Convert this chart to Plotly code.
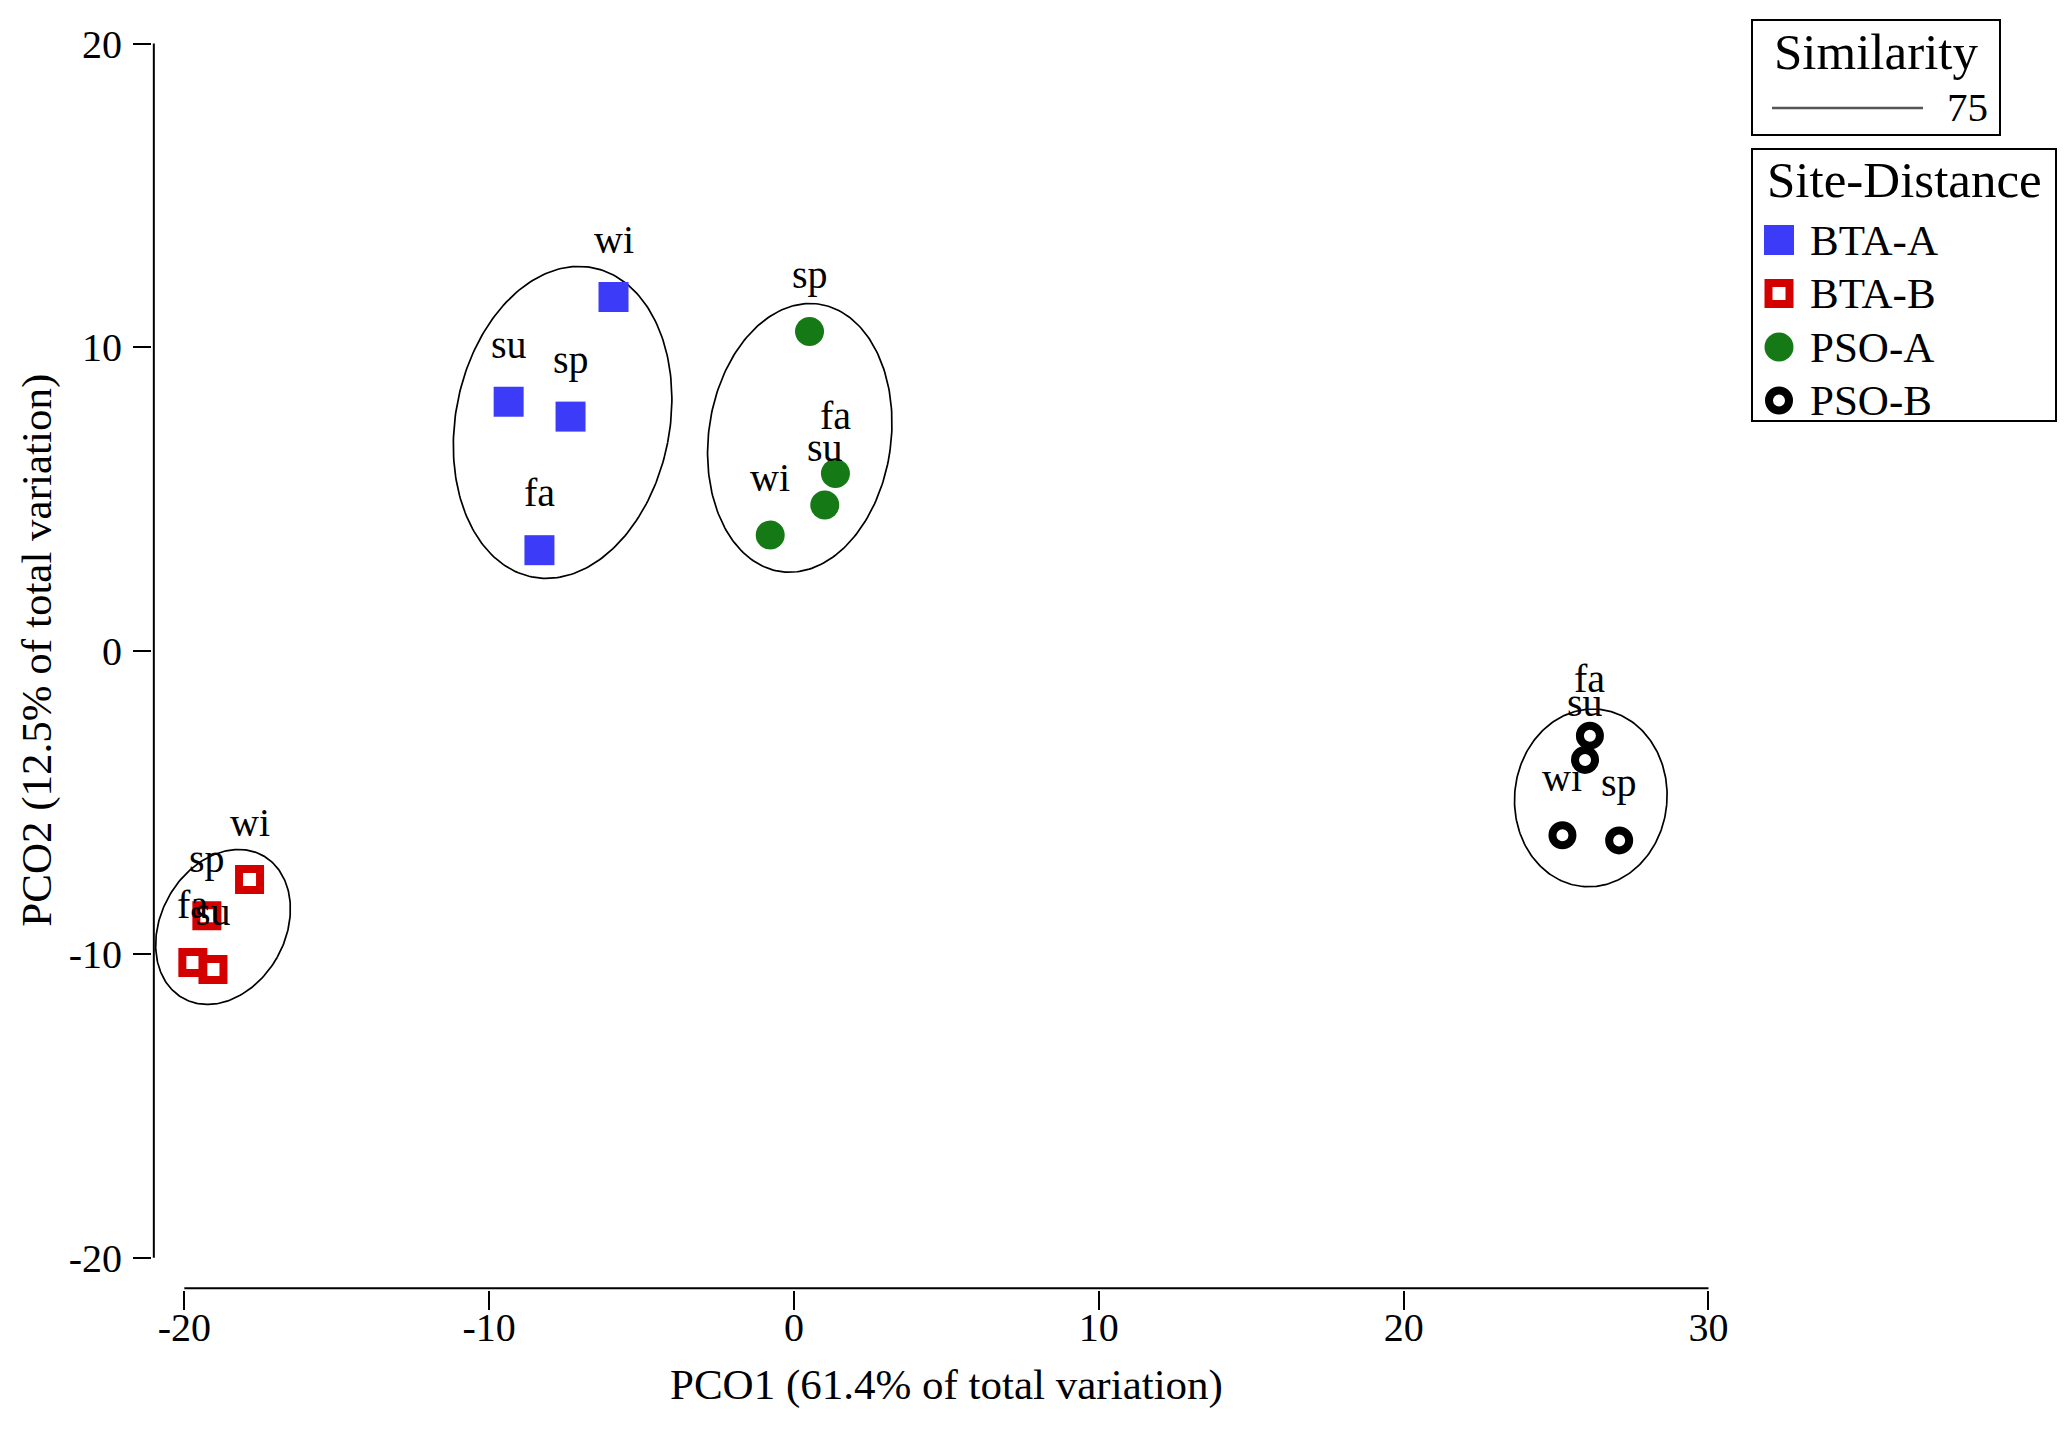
import numpy as np
import plotly.graph_objects as go

W, H = 2067, 1430
FONT = "Liberation Serif, Times New Roman, serif"

# scores per site-distance group (PCO1, PCO2), one point per season
groups = ["BTA-A", "BTA-B", "PSO-A", "PSO-B"]

bta_a_season = ["wi", "su", "sp", "fa"]
bta_a_pco1 = [-5.92, -9.36, -7.33, -8.35]
bta_a_pco2 = [11.65, 8.20, 7.71, 3.31]

bta_b_season = ["wi", "sp", "fa", "su"]
bta_b_pco1 = [-17.86, -19.26, -19.72, -19.06]
bta_b_pco2 = [-7.54, -8.73, -10.27, -10.50]

pso_a_season = ["sp", "fa", "su", "wi"]
pso_a_pco1 = [0.51, 1.36, 1.01, -0.78]
pso_a_pco2 = [10.51, 5.84, 4.80, 3.81]

pso_b_season = ["fa", "su", "wi", "sp"]
pso_b_pco1 = [26.11, 25.95, 25.21, 27.07]
pso_b_pco2 = [-2.80, -3.60, -6.08, -6.25]

# 75% similarity contours: centre x, centre y, semi-major, semi-minor, tilt (deg, clockwise from vertical)
contour_cx = [-7.59, -18.73, 0.19, 26.14]
contour_cy = [7.52, -9.10, 7.01, -4.85]
contour_a = [5.19, 2.69, 4.45, 2.93]
contour_b = [3.51, 2.04, 2.99, 2.50]
contour_tilt = [11, 29, 8, 5]

x_ticks = [-20, -10, 0, 10, 20, 30]
y_ticks = [-20, -10, 0, 10, 20]

series = {
    "BTA-A": (bta_a_pco1, bta_a_pco2, bta_a_season),
    "BTA-B": (bta_b_pco1, bta_b_pco2, bta_b_season),
    "PSO-A": (pso_a_pco1, pso_a_pco2, pso_a_season),
    "PSO-B": (pso_b_pco1, pso_b_pco2, pso_b_season),
}

styles = {
    "BTA-A": dict(symbol="square", size=30, color="#3c3cf8", line=dict(width=0)),
    "BTA-B": dict(symbol="square-open", size=21, color="#d40000", line=dict(width=8, color="#d40000")),
    "PSO-A": dict(symbol="circle", size=29, color="#157a15", line=dict(width=0)),
    "PSO-B": dict(symbol="circle-open", size=20, color="#000000", line=dict(width=8, color="#000000")),
}

# page has an 8px body margin, so the figure is drawn 8px in from the corner
PAGE = 8
# plot area in page pixels
L, R, T, B = 152, 1710, 42, 1290
XR = [-21.06, 30.05]
YR = [-21.06, 20.05]


def px_x(px):
    return (px - L) / (R - L)


def px_y(py):
    return 1 - (py - T) / (B - T)


fig = go.Figure()

# similarity ellipses
t = np.linspace(0, 2 * np.pi, 240)
for cx, cy, a, b, tilt in zip(contour_cx, contour_cy, contour_a, contour_b, contour_tilt):
    th = np.radians(tilt)
    u = b * np.cos(t)
    v = a * np.sin(t)
    fig.add_trace(go.Scatter(
        x=cx + u * np.cos(th) + v * np.sin(th),
        y=cy - u * np.sin(th) + v * np.cos(th),
        mode="lines",
        line=dict(color="black", width=1.7),
        hoverinfo="skip",
        showlegend=False,
    ))

annotations = []
for g in groups:
    xs, ys, labs = series[g]
    fig.add_trace(go.Scatter(
        x=xs, y=ys, mode="markers", name=g,
        marker=styles[g], showlegend=False, cliponaxis=False,
        hovertemplate=g + " %{text}<br>PCO1 %{x}<br>PCO2 %{y}<extra></extra>",
        text=labs,
    ))
    for x, y, lab in zip(xs, ys, labs):
        annotations.append(dict(
            x=x, y=y, xref="x", yref="y", text=lab, showarrow=False,
            yanchor="bottom", yshift=33,
            font=dict(family=FONT, size=40, color="black"),
        ))

shapes = []

# hand-made legend: swatch drawn as a shape, name as text
for i, g in enumerate(groups):
    st = styles[g]
    row_y = 240 + i * 53.5
    cx = 1779
    lw = st["line"]["width"]
    half = (st["size"] + lw) / 2 if lw else st["size"] / 2
    kind = "circle" if st["symbol"].startswith("circle") else "rect"
    if st["symbol"].endswith("open"):
        inner = half - lw / 2
        swatch = dict(fillcolor="white", line=dict(color=st["color"], width=lw))
        x0, x1, y0, y1 = cx - inner, cx + inner, row_y - inner, row_y + inner
    else:
        swatch = dict(fillcolor=st["color"], line=dict(width=0))
        x0, x1, y0, y1 = cx - half, cx + half, row_y - half, row_y + half
    shapes.append(dict(type=kind, xref="paper", yref="paper",
                       x0=px_x(x0), x1=px_x(x1), y0=px_y(y1), y1=px_y(y0), **swatch))
    annotations.append(dict(
        x=px_x(1808), y=px_y(row_y), xref="paper", yref="paper",
        text=g, showarrow=False, xanchor="left", yanchor="middle",
        font=dict(family=FONT, size=43, color="black"),
    ))

# legend titles and similarity key
annotations += [
    dict(x=px_x(1876), y=px_y(52), xref="paper", yref="paper", text="Similarity",
         showarrow=False, xanchor="center", yanchor="middle",
         font=dict(family=FONT, size=51, color="black")),
    dict(x=px_x(1990), y=px_y(107), xref="paper", yref="paper", text="75",
         showarrow=False, xanchor="right", yanchor="middle",
         font=dict(family=FONT, size=41, color="black")),
    dict(x=px_x(1904), y=px_y(180), xref="paper", yref="paper", text="Site-Distance",
         showarrow=False, xanchor="center", yanchor="middle",
         font=dict(family=FONT, size=51, color="black")),
    # axis titles
    dict(x=5, y=0, xref="x", yref="paper", yshift=-(1385 - B), text="PCO1 (61.4% of total variation)",
         showarrow=False, xanchor="center", yanchor="middle",
         font=dict(family=FONT, size=43, color="black")),
    dict(x=0, y=0, xref="paper", yref="y", xshift=-(L - 37), text="PCO2 (12.5% of total variation)",
         showarrow=False, xanchor="center", yanchor="middle", textangle=-90,
         font=dict(family=FONT, size=43, color="black")),
]

shapes += [
    # axis lines, detached from each other like the original
    dict(type="line", xref="x", yref="y", x0=-21, x1=-21, y0=-20, y1=20,
         line=dict(color="black", width=2)),
    dict(type="line", xref="x", yref="y", x0=-20, x1=30, y0=-21, y1=-21,
         line=dict(color="black", width=2)),
    # legend boxes
    dict(type="rect", xref="paper", yref="paper", x0=px_x(1752), x1=px_x(2000),
         y0=px_y(20), y1=px_y(135), line=dict(color="black", width=2)),
    dict(type="rect", xref="paper", yref="paper", x0=px_x(1752), x1=px_x(2056),
         y0=px_y(149), y1=px_y(421), line=dict(color="black", width=2)),
    dict(type="line", xref="paper", yref="paper", x0=px_x(1772), x1=px_x(1923),
         y0=px_y(108), y1=px_y(108), line=dict(color="#555555", width=2.5)),
]

axis_common = dict(
    showgrid=False, zeroline=False, showline=False,
    ticks="outside", tickwidth=2, tickcolor="black",
    tickfont=dict(family=FONT, size=40, color="black"),
)

fig.update_layout(
    width=W - PAGE, height=H - PAGE,
    paper_bgcolor="white", plot_bgcolor="white",
    margin=dict(l=L - PAGE, r=W - R, t=T - PAGE, b=H - B),
    font=dict(family=FONT, color="black"),
    showlegend=False,
    xaxis=dict(range=XR, tickvals=x_ticks, ticktext=[str(v) for v in x_ticks],
               ticklen=19, ticklabelstandoff=-17, **axis_common),
    yaxis=dict(range=YR, tickvals=y_ticks, ticktext=[str(v) for v in y_ticks],
               ticklen=18, ticklabelstandoff=3, **axis_common),
    annotations=annotations,
    shapes=shapes,
)

fig.write_html("out.html")
